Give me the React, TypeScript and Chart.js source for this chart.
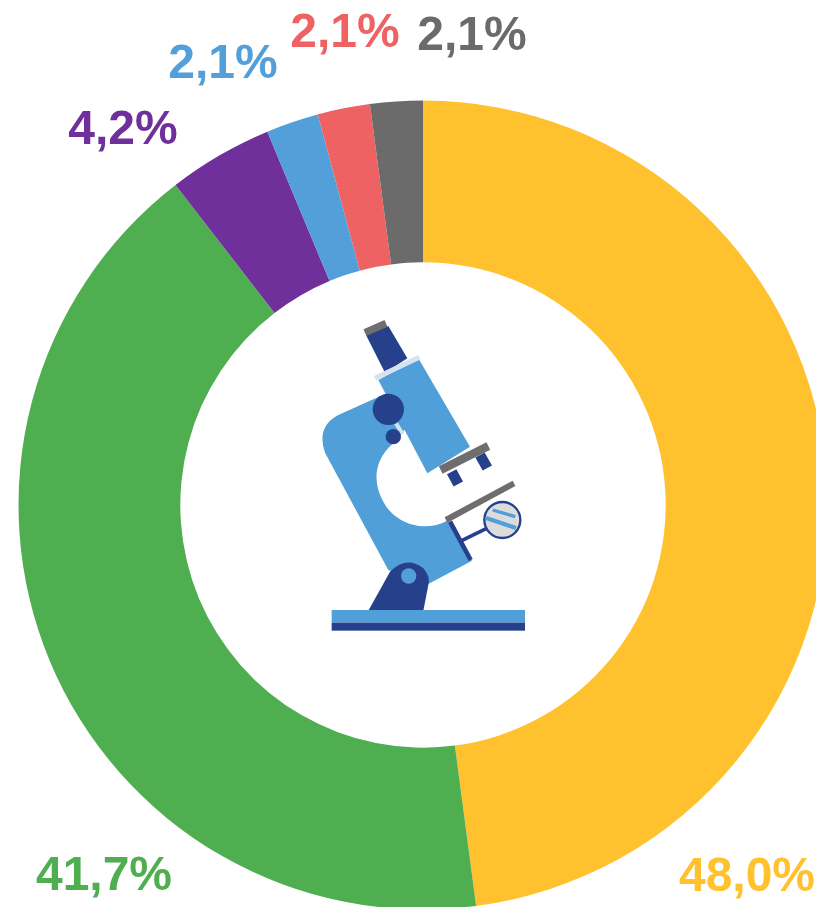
import React, { useEffect, useRef } from "react";
import { Chart, registerables } from "chart.js";

Chart.register(...registerables);

const categories = ["Amarelo", "Verde", "Roxo", "Azul", "Vermelho", "Cinza"];
const values = [48.0, 41.7, 4.2, 2.1, 2.1, 2.1];
const colors = ["#FFC12D", "#4FAE50", "#70309B", "#529FD9", "#EE6264", "#6B6B6B"];
const labelCenters: [number, number][] = [
  [747, 878],
  [104, 877],
  [123, 131],
  [223, 65],
  [345, 34],
  [472, 37],
];

const labelPlugin = {
  id: "outerLabels",
  afterDraw(chart: Chart) {
    const ctx = chart.ctx;
    ctx.save();
    ctx.font = 'bold 48px "Liberation Sans", Arial, sans-serif';
    ctx.textAlign = "center";
    ctx.textBaseline = "middle";
    values.forEach((v, i) => {
      ctx.fillStyle = colors[i];
      ctx.fillText(v.toFixed(1).replace(".", ",") + "%", labelCenters[i][0], labelCenters[i][1]);
    });
    ctx.restore();
  },
};

const LIGHT = "#519FD8";
const DARK = "#27408B";
const GREY = "#6E6E6E";

function Microscope() {
  return (
    <svg
      viewBox="0 0 690 990"
      width={230}
      height={330}
      style={{ position: "absolute", left: 310, top: 310, filter: "blur(0.6px)" }}
    >
      <path
        d="M230 250 L85 315 Q18 350 45 428 L235 780 L355 822 L486 752 L412 632 C340 670 255 640 220 575 C188 520 190 450 250 400 L300 340 Z"
        fill={LIGHT}
      />
      <polygon points="168,75 235,48 292,145 225,188" fill={DARK} />
      <line x1="165" y1="68" x2="228" y2="40" stroke={GREY} strokeWidth="22" />
      <polygon points="205,210 325,145 480,410 352,490" fill={LIGHT} />
      <line x1="195" y1="205" x2="328" y2="142" stroke="#D5E3EE" strokeWidth="15" />
      <line x1="258" y1="340" x2="278" y2="372" stroke="#D5E3EE" strokeWidth="12" />
      <circle cx="235" cy="298" r="47" fill={DARK} />
      <circle cx="250" cy="380" r="23" fill={DARK} />
      <line x1="425" y1="485" x2="445" y2="522" stroke={DARK} strokeWidth="32" />
      <line x1="510" y1="435" x2="532" y2="474" stroke={DARK} strokeWidth="32" />
      <line x1="392" y1="480" x2="535" y2="408" stroke={GREY} strokeWidth="25" />
      <line x1="408" y1="630" x2="612" y2="520" stroke={GREY} strokeWidth="18" />
      <line x1="420" y1="635" x2="482" y2="750" stroke={DARK} strokeWidth="14" />
      <line x1="455" y1="692" x2="530" y2="655" stroke={DARK} strokeWidth="11" />
      <circle cx="577" cy="630" r="54" fill="#DCDCDC" stroke={DARK} strokeWidth="7" />
      <line x1="548" y1="600" x2="616" y2="620" stroke={LIGHT} strokeWidth="10" />
      <line x1="528" y1="624" x2="618" y2="654" stroke={LIGHT} strokeWidth="12" />
      <path
        d="M175 902 L240 785 Q290 735 340 775 Q362 800 355 825 L340 902 Z"
        fill={DARK}
      />
      <circle cx="296" cy="798" r="23" fill={LIGHT} />
      <rect x="65" y="900" width="580" height="38" fill={LIGHT} />
      <rect x="65" y="938" width="580" height="24" fill={DARK} />
    </svg>
  );
}

export default function App() {
  const ref = useRef<HTMLCanvasElement>(null);

  useEffect(() => {
    if (!ref.current) return;
    const chart = new Chart(ref.current, {
      type: "doughnut",
      data: {
        labels: categories,
        datasets: [{ data: values, backgroundColor: colors, borderWidth: 0 }],
      },
      options: {
        animation: false,
        responsive: false,
        cutout: "60%",
        layout: { padding: 18.5 },
        plugins: { legend: { display: false }, tooltip: { enabled: false } },
      },
      plugins: [labelPlugin],
    });
    return () => chart.destroy();
  }, []);

  return (
    <div
      style={{
        position: "fixed",
        left: 0,
        top: 0,
        width: 816,
        height: 907,
        overflow: "hidden",
        background: "#fff",
      }}
    >
      <canvas
        ref={ref}
        width={846}
        height={1010}
        style={{ position: "absolute", left: 0, top: 0, width: 846, height: 1010 }}
      />
      <Microscope />
    </div>
  );
}
